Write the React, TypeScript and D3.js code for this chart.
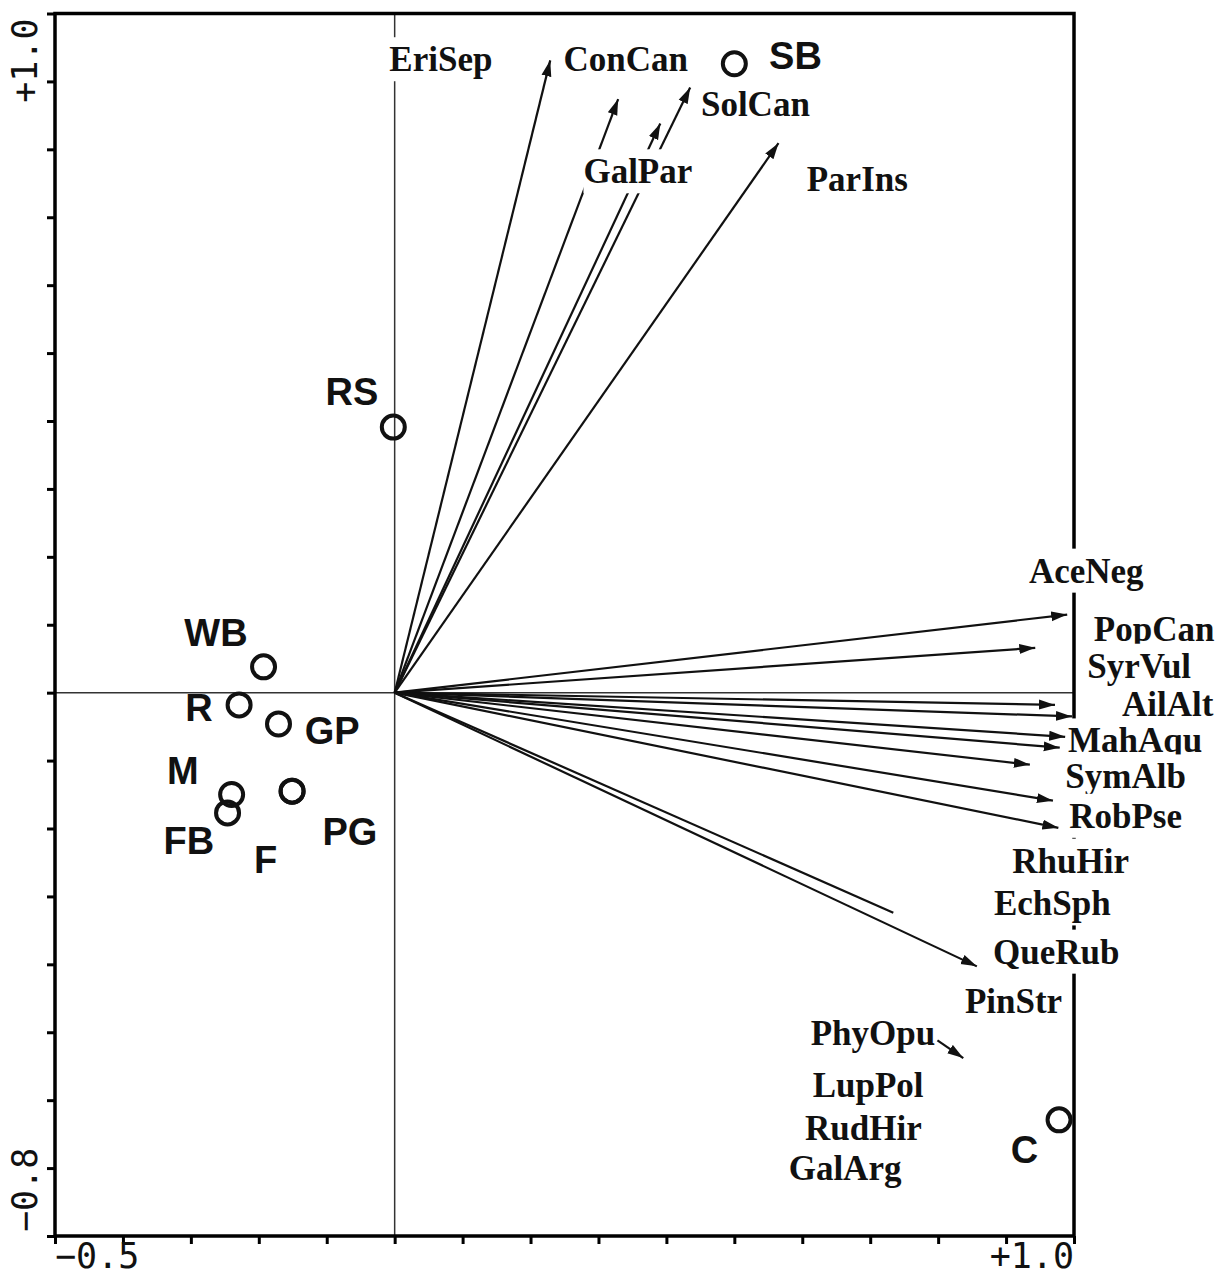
import { useEffect, useRef } from 'react';
import * as d3 from 'd3';

const W = 1216;
const H = 1276;

// axis ranges (axis 1 horizontal, axis 2 vertical)
const xDomain: [number, number] = [-0.5, 1.0];
const yDomain: [number, number] = [-0.8, 1.0];
const xTicks = d3.range(-5, 11).map(d => d / 10);
const yTicks = d3.range(-8, 11).map(d => d / 10);
const xTickLabels = ['\u22120.5', '+1.0'];
const yTickLabels = ['\u22120.8', '+1.0'];

// sites (samples) and where their labels sit
const siteNames = ['WB', 'R', 'GP', 'M', 'FB', 'F', 'PG', 'RS', 'SB', 'C'];
const siteX = [-0.193, -0.229, -0.171, -0.240, -0.246, -0.151, -0.151, -0.002, 0.500, 0.978];
const siteY = [0.038, -0.018, -0.046, -0.150, -0.177, -0.145, -0.145, 0.391, 0.926, -0.629];
const siteLabelX = [-0.263, -0.288, -0.092, -0.312, -0.303, -0.190, -0.066, -0.063, 0.590, 0.927];
const siteLabelY = [0.069, -0.041, -0.075, -0.134, -0.237, -0.266, -0.225, 0.424, 0.919, -0.693];

// species arrows (tip coordinates) and label positions
const speciesNames = [
  'EriSep', 'ConCan', 'SolCan', 'GalPar', 'ParIns', 'AceNeg', 'PopCan', 'SyrVul', 'AilAlt', 'MahAqu',
  'SymAlb', 'RobPse', 'RhuHir', 'EchSph', 'QueRub', 'PinStr', 'PhyOpu', 'LupPol', 'RudHir', 'GalArg',
];
const speciesX = [
  0.229, 0.329, 0.435, 0.391, 0.565, 0.990, 0.943, 0.972, 0.997, 0.987,
  0.979, 0.935, 0.969, 0.977, 0.857, 0.734, null, null, null, null,
];
const speciesY = [
  0.931, 0.874, 0.891, 0.838, 0.809, 0.115, 0.066, -0.018, -0.035, -0.065,
  -0.081, -0.106, -0.159, -0.199, -0.403, -0.324, null, null, null, null,
];
const speciesHead = [
  true, true, true, true, true, true, true, true, true, true,
  true, true, true, true, true, false, false, false, false, false,
];
const speciesLabelX = [
  0.068, 0.340, 0.531, 0.358, 0.681, 1.018, 1.118, 1.096, 1.138, 1.090,
  1.076, 1.076, 0.995, 0.968, 0.974, 0.911, 0.704, 0.697, 0.690, 0.663,
];
const speciesLabelY = [
  0.915, 0.915, 0.849, 0.750, 0.738, 0.162, 0.076, 0.022, -0.034, -0.088,
  -0.141, -0.199, -0.265, -0.328, -0.399, -0.472, -0.519, -0.596, -0.659, -0.718,
];
// short pointer drawn next to the PhyOpu label
const pointerX = [0.799, 0.837];
const pointerY = [-0.512, -0.538];

export default function App() {
  const svgRef = useRef<SVGSVGElement>(null);

  useEffect(() => {
    if (!svgRef.current) return;
    const svg = d3.select(svgRef.current);
    svg.selectAll('*').remove();

    const x = d3.scaleLinear().domain(xDomain).range([55, 1074]);
    const y = d3.scaleLinear().domain(yDomain).range([1236, 13.5]);

    svg.append('rect').attr('width', W).attr('height', H).attr('fill', '#fff');

    // arrowhead
    svg.append('defs').append('marker')
      .attr('id', 'head')
      .attr('viewBox', '0 -5.5 16 11')
      .attr('refX', 16)
      .attr('refY', 0)
      .attr('markerUnits', 'userSpaceOnUse')
      .attr('markerWidth', 16)
      .attr('markerHeight', 11)
      .attr('orient', 'auto')
      .append('path')
      .attr('d', 'M0,-5L16,0L0,5Z')
      .attr('fill', '#111');

    // zero lines
    svg.append('line')
      .attr('x1', x(xDomain[0])).attr('x2', x(xDomain[1]))
      .attr('y1', y(0)).attr('y2', y(0))
      .attr('stroke', '#333').attr('stroke-width', 1.5);
    svg.append('line')
      .attr('x1', x(0)).attr('x2', x(0))
      .attr('y1', y(yDomain[0])).attr('y2', y(yDomain[1]))
      .attr('stroke', '#333').attr('stroke-width', 1.5);

    // species arrows
    const arrows = speciesNames
      .map((name, i) => ({ name, sx: speciesX[i], sy: speciesY[i], head: speciesHead[i] }))
      .filter(d => d.sx !== null && d.sy !== null);

    svg.append('g')
      .selectAll('line')
      .data(arrows)
      .enter()
      .append('line')
      .attr('x1', x(0))
      .attr('y1', y(0))
      .attr('x2', d => x(d.sx as number))
      .attr('y2', d => y(d.sy as number))
      .attr('stroke', '#111')
      .attr('stroke-width', 2.2)
      .attr('marker-end', d => (d.head ? 'url(#head)' : null));

    svg.append('line')
      .attr('x1', x(pointerX[0])).attr('y1', y(pointerY[0]))
      .attr('x2', x(pointerX[1])).attr('y2', y(pointerY[1]))
      .attr('stroke', '#111')
      .attr('stroke-width', 2.2)
      .attr('marker-end', 'url(#head)');

    // frame
    svg.append('rect')
      .attr('x', x(xDomain[0]))
      .attr('y', y(yDomain[1]))
      .attr('width', x(xDomain[1]) - x(xDomain[0]))
      .attr('height', y(yDomain[0]) - y(yDomain[1]))
      .attr('fill', 'none')
      .attr('stroke', '#000')
      .attr('stroke-width', 3.5);

    // ticks
    const left = svg.append('g')
      .attr('transform', `translate(${x(xDomain[0])},0)`)
      .call(d3.axisLeft(y).tickValues(yTicks).tickSize(8).tickFormat(() => ''));
    const bottom = svg.append('g')
      .attr('transform', `translate(0,${y(yDomain[0])})`)
      .call(d3.axisBottom(x).tickValues(xTicks).tickSize(8).tickFormat(() => ''));
    [left, bottom].forEach(ax => {
      ax.select('.domain').remove();
      ax.selectAll('line').attr('stroke', '#000').attr('stroke-width', 3);
    });

    // species labels with white boxes
    speciesNames.forEach((name, i) => {
      const g = svg.append('g');
      const t = g.append('text')
        .attr('x', x(speciesLabelX[i]))
        .attr('y', y(speciesLabelY[i]))
        .attr('text-anchor', 'middle')
        .attr('font-family', '"Liberation Serif", "Times New Roman", serif')
        .attr('font-weight', 'bold')
        .attr('font-size', 35)
        .attr('fill', '#111')
        .text(name);
      const bb = (t.node() as SVGTextElement).getBBox();
      g.insert('rect', 'text')
        .attr('x', bb.x)
        .attr('y', bb.y - 3)
        .attr('width', bb.width)
        .attr('height', bb.height + 5)
        .attr('fill', '#fff');
    });

    // sites
    svg.append('g')
      .selectAll('circle')
      .data(siteNames)
      .enter()
      .append('circle')
      .attr('cx', (_, i) => x(siteX[i]))
      .attr('cy', (_, i) => y(siteY[i]))
      .attr('r', 11.5)
      .attr('fill', 'none')
      .attr('stroke', '#111')
      .attr('stroke-width', 4);

    svg.append('g')
      .selectAll('text')
      .data(siteNames)
      .enter()
      .append('text')
      .attr('x', (_, i) => x(siteLabelX[i]))
      .attr('y', (_, i) => y(siteLabelY[i]))
      .attr('text-anchor', 'middle')
      .attr('font-family', '"Liberation Sans", Arial, sans-serif')
      .attr('font-weight', 'bold')
      .attr('font-size', 38)
      .attr('fill', '#111')
      .text(d => d);

    // end labels of the axes
    const mono = '"DejaVu Sans Mono", "Liberation Mono", monospace';
    svg.append('text')
      .attr('x', x(xDomain[0])).attr('y', 1268)
      .attr('font-family', mono).attr('font-size', 35).attr('fill', '#111')
      .text(xTickLabels[0]);
    svg.append('text')
      .attr('x', x(xDomain[1])).attr('y', 1268)
      .attr('text-anchor', 'end')
      .attr('font-family', mono).attr('font-size', 35).attr('fill', '#111')
      .text(xTickLabels[1]);
    svg.append('text')
      .attr('transform', `translate(37,${y(yDomain[0]) - 4}) rotate(-90)`)
      .attr('font-family', mono).attr('font-size', 35).attr('fill', '#111')
      .text(yTickLabels[0]);
    svg.append('text')
      .attr('transform', `translate(37,${y(yDomain[1]) + 5}) rotate(-90)`)
      .attr('text-anchor', 'end')
      .attr('font-family', mono).attr('font-size', 35).attr('fill', '#111')
      .text(yTickLabels[1]);
  }, []);

  return (
    <div style={{ position: 'absolute', left: 0, top: 0, width: W, height: H, overflow: 'hidden', background: '#fff' }}>
      <svg ref={svgRef} width={W} height={H} style={{ display: 'block' }} />
    </div>
  );
}
